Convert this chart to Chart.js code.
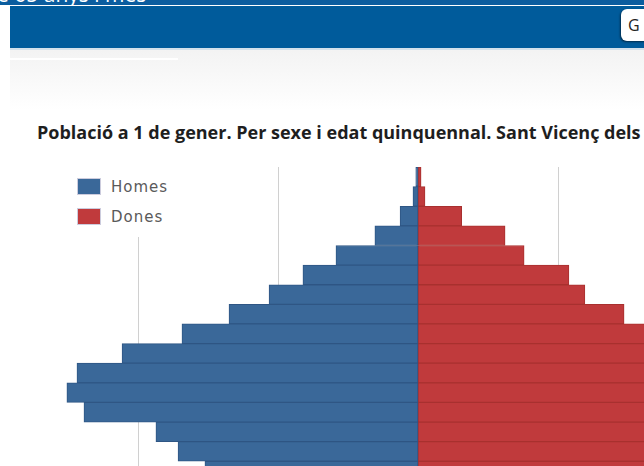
<!DOCTYPE html>
<html>
<head>
<meta charset="utf-8">
<script src="https://cdn.jsdelivr.net/npm/chart.js@4.4.1/dist/chart.umd.min.js"></script>
<style>
  html, body { margin: 0; padding: 0; }
  body { width: 644px; height: 466px; overflow: hidden; position: relative; background: #fff; font-family: "Open Sans", sans-serif; }
  #topstrip { position: absolute; left: 0; top: 0; width: 644px; height: 5px; background: #0b5d9f; overflow: hidden; }
  #topstrip span { position: absolute; left: -3px; top: -20px; color: #fff; font: 21px "Open Sans", sans-serif; white-space: nowrap; }
  #band { position: absolute; left: 10px; top: 6px; width: 634px; height: 42px; background: #005b9b; }
  #band .btn { position: absolute; left: 611px; top: 3px; width: 40px; height: 32px; background: #fff; border-radius: 6px 0 0 6px; box-shadow: -1px 1px 2px rgba(0,0,0,0.5); font: 16px "Open Sans", sans-serif; color: #222; line-height: 32px; padding-left: 7px; box-sizing: border-box; }
  #underband { position: absolute; left: 10px; top: 48px; width: 634px; height: 2px; background: #d3e1ec; }
  #greyzone { position: absolute; left: 10px; top: 50px; width: 634px; height: 60px; background: linear-gradient(#f3f3f3, #fff); }
  #whiteline { position: absolute; left: 10px; top: 58px; width: 168px; height: 2px; background: #fff; }
  #title { position: absolute; left: 37px; top: 120px; font: bold 18px "Open Sans", sans-serif; color: #1e1e1e; white-space: nowrap; }
  #chart { position: absolute; left: 0; top: 0; }
  #legend { position: absolute; left: 70px; top: 167px; width: 110px; height: 70px; background: #fff; }
  .item { position: absolute; left: 7px; height: 18px; font: 15px "DejaVu Sans", sans-serif; letter-spacing: 1px; color: #5a5a5a; line-height: 18px; }
  .item i { display: inline-block; width: 24px; height: 17px; vertical-align: top; margin-right: 10px; box-sizing: border-box; border: 1px solid #ccd; }
</style>
</head>
<body>
<div id="topstrip"><span>e 65 anys i més</span></div>
<div id="band"><div class="btn">G</div></div>
<div id="underband"></div>
<div id="greyzone"></div>
<div id="whiteline"></div>
<div id="title">Població a 1 de gener. Per sexe i edat quinquennal. Sant Vicenç dels Horts. 2023</div>
<canvas id="chart" width="840" height="600"></canvas>
<div id="legend">
  <div class="item" style="top:11px"><i style="background:#3a6899"></i>Homes</div>
  <div class="item" style="top:41px"><i style="background:#c03a3c"></i>Dones</div>
</div>
<script>
// grups d'edat, de dalt a baix
const ages = ['100 i més', '95-99', '90-94', '85-89', '80-84', '75-79', '70-74', '65-69', '60-64', '55-59',
              '50-54', '45-49', '40-44', '35-39', '30-34', '25-29', '20-24', '15-19', '10-14', '5-9', '0-4'];
const homes = [8, 18, 64, 154, 293, 411, 532, 675, 843, 1057, 1218, 1254, 1193, 936, 857, 761, 770, 820, 880, 850, 700];
const dones = [11, 25, 156, 311, 379, 539, 596, 736, 880, 1090, 1235, 1265, 1185, 955, 870, 830, 740, 775, 830, 805, 665];
const gridTicks = [-1500, -1000, -500, 500, 1000, 1500];

const ctx = document.getElementById('chart').getContext('2d');
new Chart(ctx, {
  type: 'bar',
  data: {
    labels: ages,
    datasets: [
      {
        label: 'Homes',
        data: homes.map(v => -v),
        backgroundColor: '#3a6899',
        borderColor: '#2f5684',
        borderWidth: 1,
        borderSkipped: false
      },
      {
        label: 'Dones',
        data: dones,
        backgroundColor: '#c03a3c',
        borderColor: '#a8302f',
        borderWidth: 1,
        borderSkipped: false
      }
    ]
  },
  options: {
    indexAxis: 'y',
    responsive: false,
    animation: false,
    layout: { padding: { left: 12, right: 16, top: 167, bottom: 21 } },
    datasets: { bar: { categoryPercentage: 1, barPercentage: 1 } },
    scales: {
      x: {
        stacked: true,
        min: -1450,
        max: 1450,
        afterBuildTicks: function (scale) {
          scale.ticks = gridTicks.filter(v => v > scale.min && v < scale.max).map(v => ({ value: v }));
        },
        afterFit: function (scale) { scale.height = 0; },
        grid: { color: '#d0d0d0', drawTicks: false },
        border: { display: false },
        ticks: { display: false }
      },
      y: {
        stacked: true,
        display: false
      }
    },
    plugins: {
      legend: { display: false },
      tooltip: { enabled: false }
    }
  }
});
</script>
</body>
</html>
